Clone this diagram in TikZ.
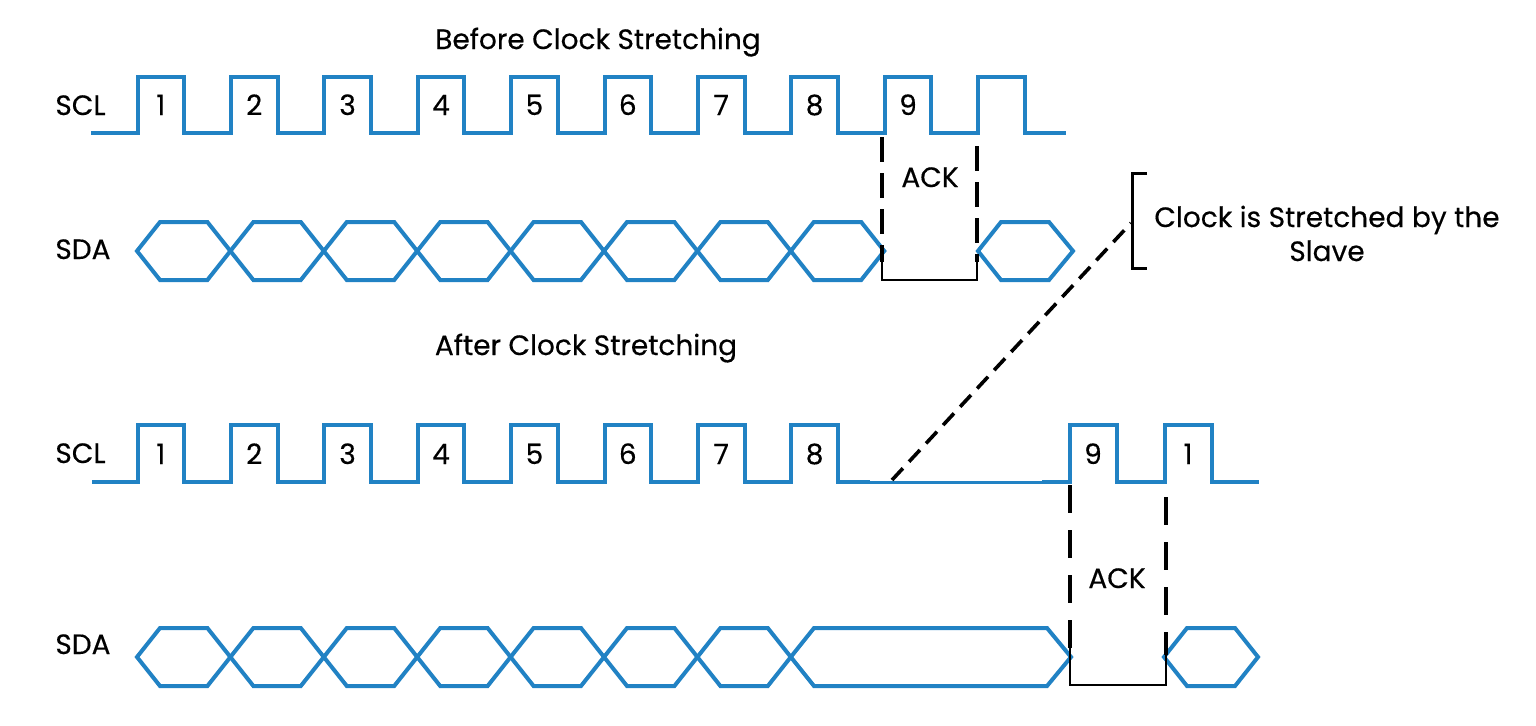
\documentclass[tikz,border=0pt]{standalone}
\usepackage{fontspec}
\setmainfont{Poppins}[FakeBold=0.35]
\definecolor{sigblue}{RGB}{33,130,196}
\begin{document}
\begin{tikzpicture}[x=0.5pt,y=-0.5pt,
  sig/.style={draw=sigblue,line width=2pt,line join=miter},
  sigthin/.style={draw=sigblue,line width=1.5pt},
  txt/.style={font=\fontsize{14}{17}\selectfont,inner sep=0pt,anchor=base},
  lbl/.style={txt,anchor=base west},
  ackdash/.style={draw=black,line width=2.3pt,dash pattern=on 12.5pt off 5.5pt},
  ackdashb/.style={draw=black,line width=2.3pt,dash pattern=on 14pt off 8.5pt},
  bracket/.style={draw=black,line width=1pt},
  callout/.style={draw=black,line width=1.5pt},
  diag/.style={draw=black,line width=1.8pt,dash pattern=on 8pt off 4.5pt}]
\useasboundingbox (0,0) rectangle (1536,725);

% titles
\node[txt] (t1) at (598,49) {Before Clock Stretching};
\node[txt] (t2) at (586,355) {After Clock Stretching};

% signal labels
\node[lbl] (scl1) at (55,115) {SCL};
\node[lbl] (sda1) at (55,259) {SDA};
\node[lbl] (scl2) at (55,463) {SCL};
\node[lbl] (sda2) at (55,654) {SDA};

% ---------- top SCL ----------
\draw[sig] (91,133)
  foreach \k in {0,...,9} {
    -- ({137.5+93.4*\k},133) -- ({137.5+93.4*\k},77)
    -- ({184.2+93.4*\k},77) -- ({184.2+93.4*\k},133) }
  -- (1066,133);
\foreach \k [evaluate=\k as \n using int(\k+1)] in {0,...,8}
  \node[txt] (na\n) at ({160.8+93.4*\k},115) {\n};

% ---------- top SDA ----------
\foreach \k in {0,...,7}
  \draw[sig] ({137+93.4*\k},251) -- ({160+93.4*\k},222)
    -- ({207.4+93.4*\k},222) -- ({230.4+93.4*\k},251)
    -- ({207.4+93.4*\k},280) -- ({160+93.4*\k},280) -- cycle;
\draw[sig] (978,251) -- (1001,222) -- (1049,222) -- (1073,251)
  -- (1049,280) -- (1001,280) -- cycle;

% top ACK
\node[txt] (ack1) at (930,187) {ACK};
\draw[ackdash] (882,137) -- (882,262);
\draw[ackdash] (977,146) -- (977,262);
\draw[bracket] (882,255) -- (882,280) -- (977,280) -- (977,255);

% ---------- bottom SCL ----------
\draw[sig] (92,482)
  foreach \k in {0,...,7} {
    -- ({137.5+93.4*\k},482) -- ({137.5+93.4*\k},425)
    -- ({184.2+93.4*\k},425) -- ({184.2+93.4*\k},482) }
  -- (870,482);
\draw[sigthin] (869,482) -- (1043,482);
\draw[sig] (1042,482) -- (1070,482) -- (1070,425) -- (1117,425) -- (1117,482)
  -- (1165,482) -- (1165,425) -- (1212,425) -- (1212,482) -- (1259,482);
\foreach \k [evaluate=\k as \n using int(\k+1)] in {0,...,7}
  \node[txt] (nb\n) at ({160.8+93.4*\k},464) {\n};
\node[txt] (nb9) at (1093,464) {9};
\node[txt] (nb10) at (1188,464) {1};

% ---------- bottom SDA ----------
\foreach \k in {0,...,6}
  \draw[sig] ({137+93.4*\k},657) -- ({160+93.4*\k},628)
    -- ({207.4+93.4*\k},628) -- ({230.4+93.4*\k},657)
    -- ({207.4+93.4*\k},686) -- ({160+93.4*\k},686) -- cycle;
\draw[sig] (790.8,657) -- (814,628) -- (1047,628) -- (1071,657)
  -- (1047,686) -- (814,686) -- cycle;
\draw[sig] (1164,657) -- (1187,628) -- (1235,628) -- (1258,657)
  -- (1235,686) -- (1187,686) -- cycle;

% bottom ACK
\node[txt] (ack2) at (1117,588) {ACK};
\draw[ackdashb] (1070,485) -- (1070,655);
\draw[ackdashb] (1166,497) -- (1166,655);
\draw[bracket] (1070,648) -- (1070,685) -- (1166,685) -- (1166,648);

% ---------- callout ----------
\node[txt,align=center] (note) at (1327,261) {Clock is Stretched by the\\Slave};
\draw[callout] (1147,173) -- (1132,173) -- (1132,268) -- (1147,268);
\coordinate (stretch) at (892,480);
\coordinate (brk) at (1131,223);
\draw[diag] (stretch) -- (brk);
\end{tikzpicture}
\end{document}
